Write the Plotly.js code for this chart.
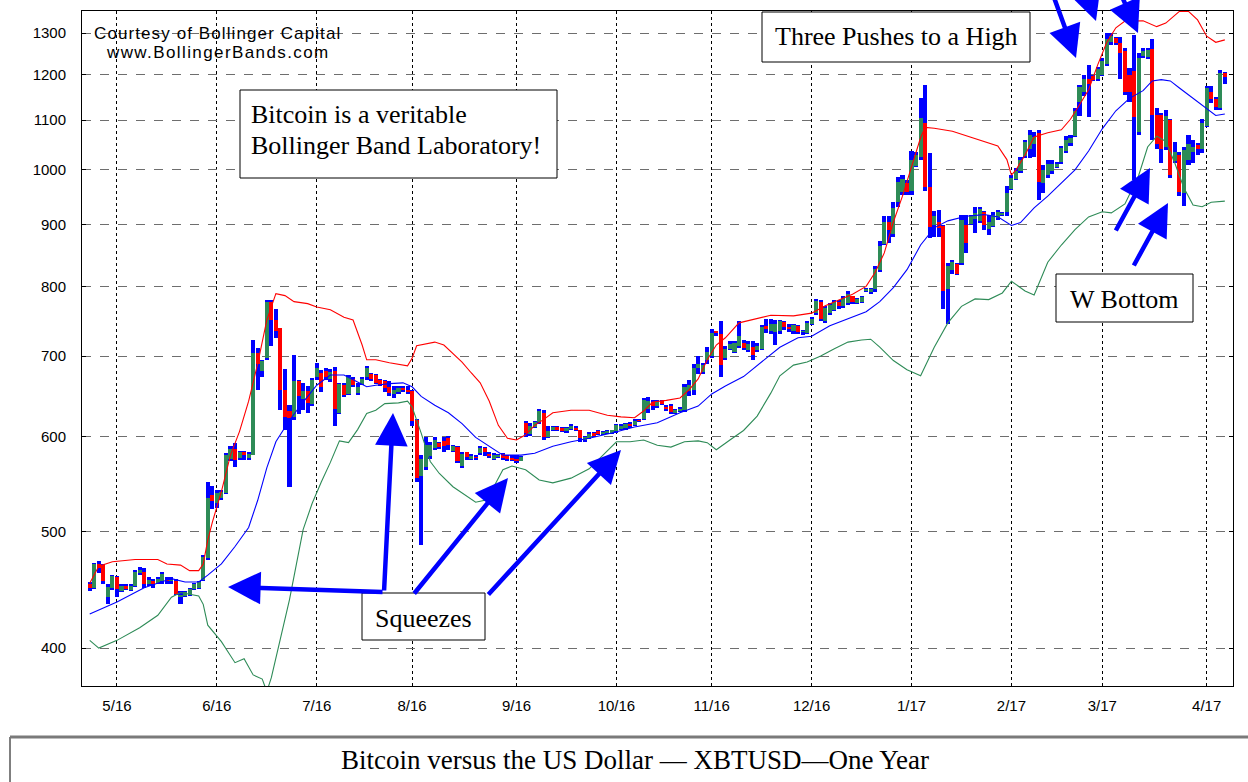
<!DOCTYPE html>
<html><head><meta charset="utf-8">
<script src="https://cdn.plot.ly/plotly-3.0.1.min.js"></script>
<style>html,body{margin:0;padding:0;background:#fff;}#chart{width:1248px;height:782px;}</style>
</head><body><div id="chart"></div>
<script>
// ---- categories: weekday trading days starting 2016-04-22 ----
const startDate = '2016-04-22';
const barCount = 251;
const tickDates = ['2016-05-02','2016-06-01','2016-07-01','2016-08-01','2016-09-01','2016-10-03','2016-11-01','2016-12-01','2017-01-02','2017-02-01','2017-03-01','2017-04-03'];
const tickLabels = ['5/16','6/16','7/16','8/16','9/16','10/16','11/16','12/16','1/17','2/17','3/17','4/17'];
const yTicks = [400,500,600,700,800,900,1000,1100,1200,1300];

// ---- XBTUSD daily bars ----
const opens = [452,449,470,469,441,449,458,446,451,447,451,462,463,452,455,453,455,456,455,455,
441,442,443,448,449,456,475,536,528,533,538,575,586,576,582,576,579,704,680,697,
777,750,738,656,630,623,667,645,655,638,672,678,680,670,680,628,662,651,670,652,
664,672,677,675,669,667,660,651,653,659,656,655,619,556,566,578,587,593,595,598,
584,588,567,582,575,577,581,587,580,575,577,580,578,576,575,573,616,603,611,617,
628,600,607,611,610,606,609,610,607,596,598,604,606,603,604,604,606,609,610,615,
613,619,620,633,641,636,642,635,636,628,630,631,655,656,684,679,695,700,734,730,
697,710,706,714,718,708,712,708,710,742,735,733,735,747,740,735,742,733,732,745,
760,777,748,760,765,776,770,775,785,775,777,793,792,796,825,868,905,885,940,958,
975,960,1008,1025,1095,968,900,905,898,796,825,835,836,900,902,910,906,922,893,898,
912,917,923,965,983,998,1027,1040,1050,1074,975,990,998,1006,1016,1036,1052,1068,1139,1160,
1190,1197,1190,1200,1225,1278,1288,1275,1255,1200,1208,1075,1245,1242,1260,1110,1110,1045,1100,1018,
1029,957,1020,1035,1048,1040,1088,1160,1145,1125,1205];
const highs = [454,471,473,470,452,460,459,452,452,452,465,467,466,458,457,458,463,458,458,457,
446,446,449,453,455,478,550,546,542,542,581,589,593,584,584,583,722,711,695,779,
780,766,739,683,637,701,669,665,661,671,691,682,684,683,685,665,665,675,672,665,
672,687,678,677,670,669,667,661,661,661,661,656,620,579,599,594,599,594,600,601,
590,589,583,583,580,579,589,588,583,581,580,581,579,579,579,578,618,616,618,633,
631,612,612,612,611,611,614,612,608,601,605,605,608,606,607,608,615,614,616,617,
620,620,646,647,643,644,643,637,639,633,635,663,668,690,700,691,712,737,735,748,
713,720,720,748,722,720,720,718,743,752,751,750,750,748,745,745,743,736,748,755,
781,780,771,775,779,779,786,793,786,783,786,797,798,832,872,915,915,941,987,990,
981,1037,1034,1148,1177,1033,924,926,900,836,842,837,917,917,917,931,931,924,917,922,
926,922,970,990,1003,1026,1060,1080,1076,1080,1010,1020,1020,1015,1047,1067,1070,1126,1177,1200,
1223,1200,1219,1240,1300,1300,1290,1290,1262,1215,1295,1250,1262,1262,1285,1125,1115,1122,1103,1056,
1035,1045,1070,1060,1053,1102,1175,1175,1150,1210,1207];
const lows = [446,448,462,452,435,447,441,445,447,446,450,460,449,451,449,452,452,452,452,443,
435,441,442,447,448,455,474,522,523,531,537,572,566,574,574,574,579,656,673,695,
713,725,631,608,545,619,627,631,628,636,669,653,668,666,612,626,647,650,660,650,
662,669,667,663,661,654,648,646,651,653,651,612,550,487,563,575,585,586,583,585,
582,570,565,574,574,574,579,578,576,574,576,574,573,572,570,572,599,601,610,615,
596,598,606,606,605,604,607,606,594,594,597,600,602,602,603,603,604,608,608,610,
612,617,619,628,631,634,637,630,627,627,629,629,648,650,676,677,690,697,728,673,
695,708,704,711,708,706,695,706,708,731,730,715,730,736,733,730,730,729,730,743,
757,748,746,758,763,766,768,772,773,773,775,792,789,792,823,866,870,880,932,953,
953,953,1006,1020,960,877,880,880,766,744,820,818,834,853,900,886,903,891,883,896,
909,915,915,963,981,994,1023,1023,1026,944,957,985,993,1004,1012,1033,1046,1065,1109,1153,
1107,1185,1185,1198,1220,1271,1271,1190,1155,1139,981,1070,1240,1237,1060,1040,1013,1039,985,1013,
952,933,1010,1013,1029,1033,1085,1137,1122,1122,1178];
const closes = [449,470,466,455,450,459,448,451,448,451,463,465,452,456,452,457,461,455,456,444,
443,445,448,452,454,476,533,530,538,540,579,586,574,582,579,580,704,690,693,777,
750,735,656,623,622,667,648,655,640,668,684,660,673,679,632,663,650,672,662,660,
670,684,670,665,662,658,652,656,659,656,654,618,554,575,590,590,596,588,589,590,
589,573,580,577,578,576,587,582,578,579,579,576,575,574,572,577,604,612,617,630,
600,606,611,607,606,610,612,608,598,599,603,601,603,605,606,607,613,612,614,612,
618,618,643,642,636,642,638,632,629,631,633,660,662,684,690,688,705,731,731,688,
710,716,718,728,711,716,702,714,740,737,745,744,748,740,737,743,733,734,746,752,
778,752,768,772,776,770,783,788,776,781,784,796,796,827,865,905,892,930,978,982,
958,1020,1030,1105,968,896,915,895,793,832,838,820,908,870,915,920,928,900,905,918,
922,920,956,985,998,1020,1055,1070,1066,978,1000,1012,1012,1012,1043,1060,1063,1120,1172,1190,
1180,1189,1213,1233,1285,1292,1276,1252,1162,1160,1107,1240,1255,1258,1112,1050,1040,1108,990,1035,
958,1039,1050,1045,1040,1095,1170,1145,1128,1205,1195];

// ---- Bollinger bands (at these bar indices) ----
const upperIdx = [0,2,5,10,15,17,20,22,24,25,26,27,29,31,33,35,37,39,41,43,45,48,50,53,56,58,60,61,63,66,70,71,72,74,76,78,80,82,84,86,88,90,92,94,96,98,100,102,106,110,114,117,120,122,124,127,130,132,134,136,138,140,143,146,150,155,159,162,165,168,171,173,175,177,179,181,183,184,186,190,195,200,202,203,204,206,208,211,214,216,218,220,222,224,226,228,232,235,237,240,242,244,246,248,250];
const upperVals = [453,468,472,474,474,470,469,464,464,470,492,509,540,579,606,642,690,750,789,786,777,774,769,765,754,750,715,695,695,691,687,697,714,717,719,715,704,692,678,665,642,613,598,596,602,613,620,628,631,631,625,623,622,630,641,643,646,656,670,695,715,725,746,751,757,756,760,771,780,788,800,822,853,905,951,1008,1064,1085,1083,1077,1062,1047,1020,990,1000,1029,1065,1074,1080,1102,1133,1166,1223,1277,1313,1330,1331,1316,1325,1355,1355,1333,1292,1277,1283];
const midIdx = [0,6,12,18,21,24,26,29,32,35,37,39,41,44,47,50,53,56,59,61,63,66,69,71,73,76,79,82,85,88,91,95,98,102,106,110,115,120,125,130,134,137,140,144,148,152,156,159,163,167,171,174,177,180,183,186,189,193,197,200,203,205,208,211,214,217,220,223,226,229,232,234,236,238,240,243,246,248,250];
const midVals = [427,437,449,457,454,454,460,470,486,504,531,565,594,619,641,662,675,675,666,660,662,664,665,660,648,637,628,615,599,589,579,579,581,589,594,598,604,611,616,628,636,651,661,673,692,712,725,727,742,752,762,777,798,826,866,895,907,915,918,914,899,904,930,951,975,1000,1037,1082,1120,1147,1164,1186,1189,1186,1170,1147,1123,1110,1113];
const lowerIdx = [0,2,6,11,15,18,20,24,25,26,29,32,34,36,38,39,40,42,44,47,49,51,53,55,57,59,61,63,65,68,70,71,73,75,77,80,83,85,87,89,91,93,96,99,102,106,110,113,116,119,122,125,128,131,134,136,138,141,144,147,150,152,155,158,161,164,167,170,172,174,177,180,183,186,189,192,195,198,201,203,206,208,211,214,217,220,223,225,228,231,233,235,237,239,241,243,245,247,250];
const lowerVals = [406,400,406,416,426,441,445,442,435,418,405,389,392,380,377,368,378,408,439,502,528,550,571,595,593,608,627,631,639,640,642,635,604,572,559,545,535,529,531,545,563,567,563,552,549,554,564,579,594,594,596,590,588,594,595,593,585,596,607,624,652,674,688,692,700,710,719,722,723,712,694,682,674,712,746,770,781,780,790,808,793,787,838,866,892,914,923,921,937,989,1045,1067,1056,1013,966,935,932,940,942];

// ---- build ----
function weekdayDates(start, n) {
  const out = []; const d = new Date(start + 'T00:00:00Z');
  while (out.length < n) {
    const wd = d.getUTCDay();
    if (wd !== 0 && wd !== 6) out.push(d.toISOString().slice(0, 10));
    d.setUTCDate(d.getUTCDate() + 1);
  }
  return out;
}
const dates = weekdayDates(startDate, barCount);
const BLUE = '#0000ff', RED = '#ff0000', GREEN = '#2e8b57';

const rangeTrace = {
  type: 'bar', x: dates, base: lows, y: highs.map((h, i) => h - lows[i]),
  width: 0.9, marker: {color: BLUE, line: {width: 0}}, hoverinfo: 'skip'
};
const bodyTrace = {
  type: 'bar', x: dates,
  base: opens.map((o, i) => Math.min(o, closes[i])),
  y: opens.map((o, i) => Math.max(Math.abs(closes[i] - o), 0.6)),
  width: 0.9,
  marker: {color: opens.map((o, i) => closes[i] >= o ? GREEN : RED), line: {width: 0}},
  hoverinfo: 'skip'
};
function band(idx, vals, color) {
  return {type: 'scatter', mode: 'lines', x: idx.map(i => dates[i]), y: vals,
          line: {color: color, width: 1.1}, hoverinfo: 'skip'};
}

// pixel helpers for decorations (plot area 82..1233 x 11..686)
const px = v => (v - 82) / 1151, py = v => (686 - v) / 675;
const SERIF = 'Liberation Serif, Times New Roman, serif';
const SANS = 'Liberation Sans, Arial, sans-serif';

function boxRect(left, top, right, bottom) {
  return {type: 'rect', xref: 'paper', yref: 'paper', x0: px(left), x1: px(right), y0: py(bottom), y1: py(top),
    line: {color: '#000', width: 1}, fillcolor: '#fff', layer: 'above'};
}
function label(text, x, y, anchor, size, family, spacing) {
  const t = spacing ? '<span style="letter-spacing:' + spacing + 'px">' + text + '</span>' : text;
  return {xref: 'paper', yref: 'paper', x: px(x), y: py(y), xanchor: anchor, yanchor: 'middle',
    showarrow: false, text: t, font: {family: family, size: size, color: '#000'}};
}
function arrow(tx, ty, hx, hy) {
  return {xref: 'paper', yref: 'paper', axref: 'paper', ayref: 'paper',
    x: px(hx), y: py(hy), ax: px(tx), ay: py(ty), text: '', showarrow: true,
    arrowhead: 2, arrowsize: 1.45, arrowwidth: 4.5, arrowcolor: BLUE, standoff: 0, startstandoff: 0};
}

const annotations = [
  label('Courtesy of Bollinger Capital', 92, 33, 'left', 17, SANS, 1.1),
  label('www.BollingerBands.com', 104, 53, 'left', 17, SANS, 1.4),
  label('Bitcoin is a veritable', 249, 115, 'left', 26, SERIF),
  label('Bollinger Band Laboratory!', 249, 146, 'left', 26, SERIF),
  label('Three Pushes to a High', 896, 37, 'center', 26, SERIF),
  label('W Bottom', 1124, 299, 'center', 26, SERIF),
  label('Squeezes', 423, 618, 'center', 26, SERIF),
  arrow(384, 592, 228, 587),
  arrow(384, 592, 393, 413),
  arrow(413, 595, 508, 478),
  arrow(487, 596, 621, 450),
  arrow(1052, -8, 1076, 58),
  arrow(1086, -8, 1096, 21),
  arrow(1120, -8, 1138, 33),
  arrow(1115, 232, 1150, 168),
  arrow(1133, 267, 1168, 203),
  label('Bitcoin versus the US Dollar \u2014 XBTUSD\u2014One Year', 635, 760, 'center', 27, SERIF)
];
const shapes = [
  boxRect(240, 90, 557, 178),
  boxRect(762, 12, 1030, 62),
  boxRect(1056, 274, 1193, 322),
  boxRect(362, 593, 485, 640),
  {type: 'rect', xref: 'paper', yref: 'paper', x0: px(10), x1: px(1260), y0: py(737), y1: py(800),
   line: {color: '#000', width: 1}, fillcolor: 'rgba(0,0,0,0)'},
  {type: 'line', xref: 'paper', yref: 'paper', x0: px(10), x1: px(1260), y0: py(737), y1: py(737),
   line: {color: '#7a7a7a', width: 3}}
];

const layout = {
  width: 1248, height: 782, margin: {l: 82, r: 15, t: 11, b: 96},
  paper_bgcolor: '#fff', plot_bgcolor: '#fff', showlegend: false,
  barmode: 'overlay', bargap: 0,
  xaxis: {type: 'category', range: [-1.7, 251.8], tickmode: 'array', tickvals: tickDates, ticktext: tickLabels,
    showgrid: true, gridcolor: '#000', griddash: 'dot', gridwidth: 1,
    showline: true, linecolor: '#000', linewidth: 1, mirror: true, ticks: '', ticklabelstandoff: 6,
    tickfont: {family: SANS, size: 15, color: '#000'}, zeroline: false, fixedrange: true},
  yaxis: {type: 'log', range: [Math.log10(372), Math.log10(1356)], tickmode: 'array', tickvals: yTicks,
    ticktext: yTicks.map(String), showgrid: true, gridcolor: '#6e6e6e', griddash: 'dash', gridwidth: 1,
    showline: true, linecolor: '#000', linewidth: 1, mirror: 'allticks', ticks: 'inside', ticklen: 4,
    tickcolor: '#000', ticklabelstandoff: 12, tickfont: {family: SANS, size: 15, color: '#000'},
    zeroline: false, fixedrange: true},
  annotations: annotations, shapes: shapes
};

Plotly.newPlot('chart', [rangeTrace, bodyTrace,
  band(upperIdx, upperVals, RED), band(midIdx, midVals, BLUE), band(lowerIdx, lowerVals, GREEN)],
  layout, {staticPlot: true, displayModeBar: false});
</script></body></html>
